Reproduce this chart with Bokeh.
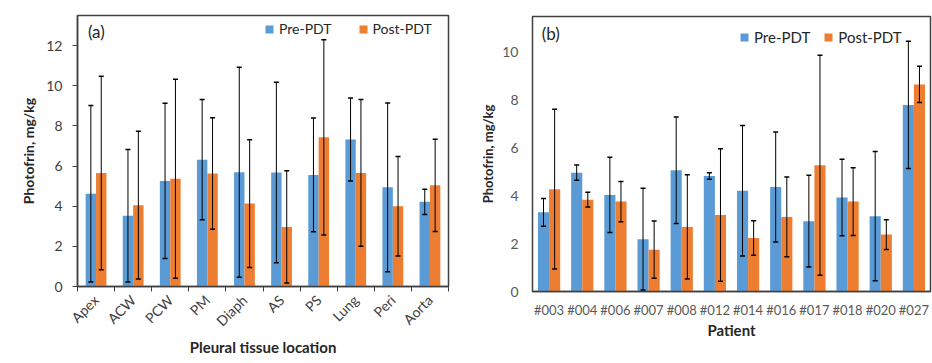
import numpy as np
from math import pi
from bokeh.plotting import figure
from bokeh.models import (Range1d, FixedTicker, Whisker, ColumnDataSource, Legend,
                          LegendItem, Label, TeeHead)
from bokeh.layouts import row, column
from bokeh.embed import file_html
from bokeh.resources import INLINE

# ---------------- data ----------------
sites = ["Apex", "ACW", "PCW", "PM", "Diaph", "AS", "PS", "Lung", "Peri", "Aorta"]
a_pre = [4.62, 3.52, 5.26, 6.32, 5.69, 5.68, 5.56, 7.32, 4.94, 4.22]
a_pre_sd = [4.40, 3.30, 3.87, 3.00, 5.23, 4.50, 2.83, 2.07, 4.20, 0.63]
a_post = [5.65, 4.05, 5.37, 5.63, 4.13, 2.97, 7.43, 5.66, 4.00, 5.04]
a_post_sd = [4.82, 3.68, 4.96, 2.78, 3.18, 2.80, 4.86, 3.66, 2.48, 2.30]
a_yticks = [0, 2, 4, 6, 8, 10, 12]

patients = ["#003", "#004", "#006", "#007", "#008", "#012", "#014", "#016",
            "#017", "#018", "#020", "#027"]
b_pre = [3.31, 4.97, 4.04, 2.19, 5.07, 4.83, 4.21, 4.37, 2.94, 3.93, 3.15, 7.80]
b_pre_sd = [0.58, 0.32, 1.57, 2.13, 2.23, 0.14, 2.73, 2.30, 1.92, 1.60, 2.70, 2.66]
b_post = [4.28, 3.84, 3.76, 1.75, 2.70, 3.20, 2.24, 3.12, 5.28, 3.76, 2.38, 8.66]
b_post_sd = [3.34, 0.31, 0.84, 1.20, 2.18, 2.77, 0.72, 1.67, 4.60, 1.42, 0.62, 0.76]
b_yticks = [0, 2, 4, 6, 8, 10]

BLUE = "#5B9BD5"
ORANGE = "#ED7D31"
FONT = "Lato"
DARK = "#404040"
GRAY = "#595959"


def add_bars(p, n, pre, pre_sd, post, post_sd, bw):
    idx = np.arange(n)
    pre = np.array(pre); pre_sd = np.array(pre_sd)
    post = np.array(post); post_sd = np.array(post_sd)
    s_pre = ColumnDataSource(dict(x=idx - bw / 2, top=pre, up=pre + pre_sd, lo=pre - pre_sd))
    s_post = ColumnDataSource(dict(x=idx + bw / 2, top=post, up=post + post_sd, lo=post - post_sd))
    r1 = p.vbar(x="x", top="top", width=bw, source=s_pre, fill_color=BLUE, line_color=None)
    r2 = p.vbar(x="x", top="top", width=bw, source=s_post, fill_color=ORANGE, line_color=None)
    for s in (s_pre, s_post):
        w = Whisker(source=s, base="x", upper="up", lower="lo", line_color="black",
                    line_width=1, level="annotation",
                    upper_head=TeeHead(size=5, line_color="black", line_width=1.5),
                    lower_head=TeeHead(size=5, line_color="black", line_width=1.5))
        p.add_layout(w)
    return r1, r2


# ---------------- panel (a) ----------------
na = len(sites)
pa = figure(width=470, height=363, x_range=Range1d(-0.5, na - 0.5), y_range=Range1d(0, 13.5),
            output_backend="svg", toolbar_location=None,
            min_border_left=77, min_border_right=22, min_border_top=15, min_border_bottom=77)
ra1, ra2 = add_bars(pa, na, a_pre, a_pre_sd, a_post, a_post_sd, 0.28)
pa.xgrid.visible = False
pa.ygrid.visible = False
pa.outline_line_color = DARK
pa.outline_line_width = 1.5

xa = pa.xaxis[0]
xa.ticker = FixedTicker(ticks=list(range(na)), minor_ticks=[i - 0.5 for i in range(na + 1)])
xa.major_label_overrides = {i: s for i, s in enumerate(sites)}
xa.major_tick_line_color = None
xa.minor_tick_line_color = DARK
xa.minor_tick_in = 0
xa.minor_tick_out = 5
xa.axis_line_color = DARK
xa.axis_line_width = 1.5
xa.major_label_orientation = pi / 4
xa.major_label_text_font = FONT
xa.major_label_text_font_size = "14px"
xa.major_label_text_color = DARK
xa.major_label_standoff = 5
xa.axis_label = "Pleural tissue location"
xa.axis_label_text_font = FONT
xa.axis_label_text_font_style = "bold"
xa.axis_label_text_font_size = "15px"
xa.axis_label_text_color = "#262626"
xa.axis_label_standoff = 0

ya = pa.yaxis[0]
ya.ticker = FixedTicker(ticks=a_yticks)
ya.minor_tick_line_color = None
ya.major_tick_in = 0
ya.major_tick_out = 5
ya.major_tick_line_color = DARK
ya.axis_line_color = DARK
ya.axis_line_width = 1.5
ya.major_label_text_font = FONT
ya.major_label_text_font_size = "14px"
ya.major_label_text_color = DARK
ya.major_label_standoff = 10
ya.axis_label = "Photofrin, mg/kg"
ya.axis_label_text_font = FONT
ya.axis_label_text_font_style = "bold"
ya.axis_label_text_font_size = "14px"
ya.axis_label_text_color = "#262626"
ya.axis_label_standoff = 6

lega = Legend(items=[LegendItem(label="Pre-PDT", renderers=[ra1]),
                     LegendItem(label="Post-PDT", renderers=[ra2])],
              orientation="horizontal", location=(187, 249),
              glyph_width=10, glyph_height=10, label_standoff=5, spacing=26,
              padding=4, margin=0, border_line_color=None, background_fill_alpha=0,
              label_text_font=FONT, label_text_font_size="14px", label_text_color="#262626")
pa.add_layout(lega)
pa.add_layout(Label(x=-0.22, y=12.7, text="(a)", text_font=FONT, text_font_size="17px",
                    text_baseline="middle", text_align="left", text_color="#262626"))

# ---------------- panel (b) ----------------
nb = len(patients)
pb = figure(width=462, height=363, x_range=Range1d(-0.5, nb - 0.5), y_range=Range1d(0, 11.5),
            output_backend="svg", toolbar_location=None,
            min_border_left=62, min_border_right=2, min_border_top=16, min_border_bottom=72)
rb1, rb2 = add_bars(pb, nb, b_pre, b_pre_sd, b_post, b_post_sd, 0.335)
pb.xgrid.visible = False
pb.ygrid.visible = False
pb.outline_line_color = DARK
pb.outline_line_width = 1.5

xb = pb.xaxis[0]
xb.ticker = FixedTicker(ticks=list(range(nb)))
xb.major_label_overrides = {i: s for i, s in enumerate(patients)}
xb.major_tick_line_color = None
xb.major_tick_out = 0
xb.major_tick_in = 0
xb.minor_tick_line_color = None
xb.minor_tick_out = 0
xb.minor_tick_in = 0
xb.axis_line_color = DARK
xb.axis_line_width = 1.5
xb.major_label_text_font = FONT
xb.major_label_text_font_size = "13px"
xb.major_label_text_color = GRAY
xb.major_label_standoff = 10
xb.axis_label = "Patient"
xb.axis_label_text_font = FONT
xb.axis_label_text_font_style = "bold"
xb.axis_label_text_font_size = "15px"
xb.axis_label_text_color = "#262626"
xb.axis_label_standoff = 0

yb = pb.yaxis[0]
yb.ticker = FixedTicker(ticks=b_yticks)
yb.minor_tick_line_color = None
yb.minor_tick_out = 0
yb.minor_tick_in = 0
yb.major_tick_line_color = None
yb.major_tick_out = 0
yb.major_tick_in = 0
yb.axis_line_color = None
yb.major_label_text_font = FONT
yb.major_label_text_font_size = "14px"
yb.major_label_text_color = GRAY
yb.major_label_standoff = 14
yb.axis_label = "Photofrin, mg/kg"
yb.axis_label_text_font = FONT
yb.axis_label_text_font_style = "bold"
yb.axis_label_text_font_size = "13px"
yb.axis_label_text_color = "#262626"
yb.axis_label_standoff = 3

legb = Legend(items=[LegendItem(label="Pre-PDT", renderers=[rb1]),
                     LegendItem(label="Post-PDT", renderers=[rb2])],
              orientation="horizontal", location=(207, 245),
              glyph_width=10, glyph_height=10, label_standoff=5, spacing=13,
              padding=4, margin=0, border_line_color=None, background_fill_alpha=0,
              label_text_font=FONT, label_text_font_size="15px", label_text_color="#262626")
pb.add_layout(legb)
pb.add_layout(Label(x=-0.22, y=10.78, text="(b)", text_font=FONT, text_font_size="17px",
                    text_baseline="middle", text_align="left", text_color="#262626"))

layout = row(column(pa), column(pb))
open("out.html", "w").write(file_html(layout, INLINE))
